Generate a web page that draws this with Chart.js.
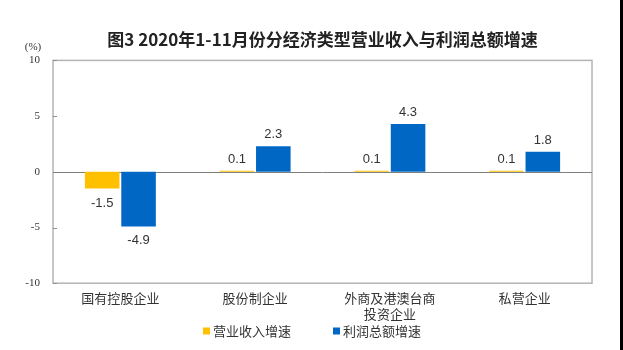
<!DOCTYPE html>
<html>
<head>
<meta charset="utf-8">
<script src="https://cdn.jsdelivr.net/npm/chart.js@4.4.0/dist/chart.umd.min.js"></script>
<style>
    html, body { margin: 0; padding: 0; background: #000; }
    #wrap { width: 620px; height: 350px; background: #fff; }
</style>
</head>
<body>
<div id="wrap"><canvas id="chart" width="620" height="350"></canvas></div>
<script>
const categories = [
    '国有控股企业',
    '股份制企业',
    ['外商及港澳台商', '投资企业'],
    '私营企业'
];
const revenueGrowth = [-1.5, 0.1, 0.1, 0.1];
const profitGrowth = [-4.9, 2.3, 4.3, 1.8];
const yTicks = [10, 5, 0, -5, -10];

const cjk = '"Noto Sans CJK SC", "Noto Sans", sans-serif';

// Frame, zero line, tick marks, (%) unit, value labels and legend
const framePlugin = {
    id: 'frame',
    beforeDatasetsDraw(chart) {
        const ctx = chart.ctx;
        const area = chart.chartArea;
        const y = chart.scales.y;
        ctx.save();
        ctx.strokeStyle = '#b4b4b4';
        ctx.lineWidth = 1.5;
        ctx.strokeRect(area.left, area.top, area.right - area.left, area.bottom - area.top);
        ctx.strokeStyle = '#909090';
        ctx.lineWidth = 1;
        yTicks.forEach(v => {
            const py = Math.round(y.getPixelForValue(v)) + 0.5;
            ctx.beginPath();
            ctx.moveTo(area.left, py);
            ctx.lineTo(area.left + 4, py);
            ctx.stroke();
        });
        const zy = Math.round(y.getPixelForValue(0)) + 0.5;
        ctx.strokeStyle = '#808080';
        ctx.beginPath();
        ctx.moveTo(area.left, zy);
        ctx.lineTo(area.right, zy);
        ctx.stroke();
        ctx.fillStyle = '#333';
        ctx.font = '11px "Liberation Serif", serif';
        ctx.textAlign = 'center';
        ctx.textBaseline = 'middle';
        ctx.fillText('(%)', 33, 47);
        ctx.restore();
    },
    afterDatasetsDraw(chart) {
        const ctx = chart.ctx;
        ctx.save();
        ctx.fillStyle = '#333';
        ctx.font = '13px "Liberation Sans", Arial, sans-serif';
        ctx.textAlign = 'center';
        chart.data.datasets.forEach((ds, i) => {
            chart.getDatasetMeta(i).data.forEach((bar, j) => {
                const v = ds.data[j];
                if (v >= 0) {
                    ctx.textBaseline = 'bottom';
                    ctx.fillText(v.toFixed(1), bar.x, bar.y - 5);
                } else {
                    ctx.textBaseline = 'top';
                    ctx.fillText(v.toFixed(1), bar.x, bar.y + 8);
                }
            });
        });

        // legend
        ctx.font = '13px ' + cjk;
        ctx.textAlign = 'left';
        ctx.textBaseline = 'middle';
        const items = chart.data.datasets.map(ds => ({
            label: ds.label,
            color: ds.backgroundColor,
            w: 7 + 3 + ctx.measureText(ds.label).width
        }));
        const spacing = 42;
        const total = items.reduce((s, it) => s + it.w, 0) + spacing * (items.length - 1);
        let x = 312 - total / 2;
        const ly = 331;
        items.forEach(it => {
            ctx.fillStyle = it.color;
            ctx.fillRect(x, ly - 3.5, 7, 7);
            ctx.fillStyle = '#333';
            ctx.fillText(it.label, x + 10, ly);
            x += it.w + spacing;
        });
        ctx.restore();
    }
};

new Chart(document.getElementById('chart'), {
    type: 'bar',
    data: {
        labels: categories,
        datasets: [
            {
                label: '营业收入增速',
                data: revenueGrowth,
                backgroundColor: '#FFC000'
            },
            {
                label: '利润总额增速',
                data: profitGrowth,
                backgroundColor: '#0068C4'
            }
        ]
    },
    options: {
        responsive: false,
        animation: false,
        categoryPercentage: 0.54,
        barPercentage: 0.95,
        layout: {
            padding: { left: 0, right: 28, top: 0, bottom: 21 }
        },
        plugins: {
            title: {
                display: true,
                fullSize: false,
                text: '图3 2020年1-11月份分经济类型营业收入与利润总额增速',
                color: '#222',
                font: { family: cjk, size: 17, weight: 'bold' },
                padding: { top: 29, bottom: 11 }
            },
            legend: { display: false },
            tooltip: { enabled: false }
        },
        scales: {
            x: {
                grid: { display: false, drawTicks: false },
                border: { display: false },
                ticks: {
                    color: '#333',
                    font: { family: cjk, size: 13, lineHeight: 1.3 },
                    maxRotation: 0,
                    autoSkip: false,
                    padding: 6
                }
            },
            y: {
                min: -10,
                max: 10,
                afterFit: scale => { scale.width = 53; },
                afterBuildTicks: scale => { scale.ticks = yTicks.map(v => ({ value: v })); },
                grid: { display: false, drawTicks: false },
                border: { display: false },
                ticks: {
                    color: '#333',
                    font: { family: '"Liberation Serif", serif', size: 11 },
                    padding: 13
                }
            }
        }
    },
    plugins: [framePlugin]
});
</script>
</body>
</html>
